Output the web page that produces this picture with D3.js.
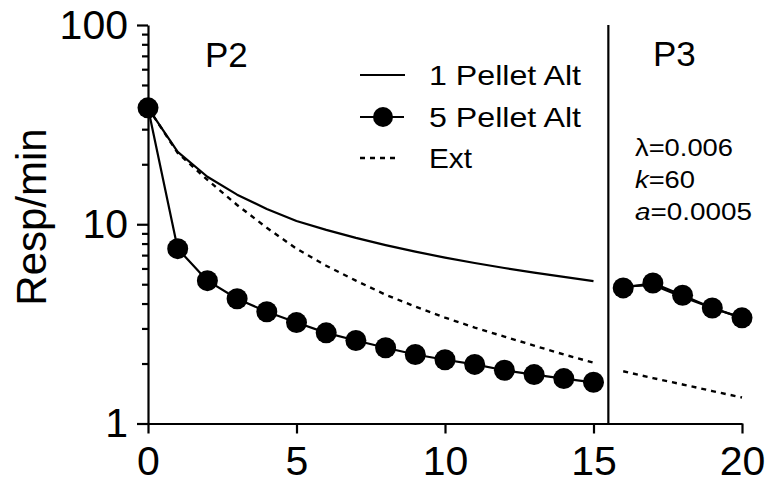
<!DOCTYPE html>
<html>
<head>
<meta charset="utf-8">
<script src="https://cdn.jsdelivr.net/npm/d3@7"></script>
<style>
  html, body { margin: 0; padding: 0; background: #fff; }
  svg { display: block; font-family: "Liberation Sans", Arial, sans-serif; }
</style>
</head>
<body>
<svg id="chart" width="771" height="487"></svg>
<script>
// Sessions in each phase
const sessionsP2 = [0, 1, 2, 3, 4, 5, 6, 7, 8, 9, 10, 11, 12, 13, 14, 15];
const sessionsP3 = [16, 17, 18, 19, 20];

// Responses per minute, phase 2
const onePelletP2 = [38.4, 23.1, 17.32, 14.08, 11.93, 10.39, 9.37, 8.54, 7.86, 7.29, 6.80, 6.39, 6.03, 5.72, 5.44, 5.18];
const fivePelletP2 = [38.4, 7.54, 5.21, 4.23, 3.64, 3.21, 2.85, 2.61, 2.40, 2.22, 2.09, 1.98, 1.85, 1.76, 1.68, 1.61];
const extP2 = [38.4, 22.8, 16.7, 12.5, 9.6, 7.54, 6.19, 5.21, 4.43, 3.86, 3.40, 3.03, 2.73, 2.46, 2.22, 2.02];

// Responses per minute, phase 3
const onePelletP3 = [4.88, 4.95, 4.32, 3.80, 3.39];
const fivePelletP3 = [4.79, 5.07, 4.40, 3.80, 3.39];
const extP3 = [1.83, 1.69, 1.57, 1.455, 1.35];

const xTicks = [0, 5, 10, 15, 20];
const yMajorTicks = [1, 10, 100];
const yMinorTicks = [2, 3, 4, 5, 6, 7, 8, 9, 20, 30, 40, 50, 60, 70, 80, 90];

const legendLabels = ["1 Pellet Alt", "5 Pellet Alt", "Ext"];
const phaseLabels = ["P2", "P3"];
const phaseBoundary = 15.5;

const svg = d3.select("#chart");
const x = d3.scaleLinear().domain([0, 20]).range([148, 742]);
const y = d3.scaleLog().domain([1, 100]).range([423.5, 25]);

const ink = "#000";

// Axes
const xAxis = svg.append("g")
  .attr("transform", `translate(0,${y(1)})`)
  .call(d3.axisBottom(x).tickValues(xTicks).tickSizeInner(10).tickSizeOuter(0).tickPadding(12).tickFormat(d3.format("d")));
xAxis.select(".domain").attr("stroke", ink).attr("stroke-width", 2.2);
xAxis.selectAll(".tick line").attr("stroke", ink).attr("stroke-width", 2.2);
xAxis.selectAll(".tick text").attr("font-size", 41).attr("fill", ink)
  .attr("font-family", "Liberation Sans, Arial, sans-serif");

const yMinor = svg.append("g")
  .attr("transform", `translate(${x(0)},0)`)
  .call(d3.axisLeft(y).tickValues(yMinorTicks).tickSizeInner(6).tickSizeOuter(0).tickFormat(""));
yMinor.select(".domain").remove();
yMinor.selectAll(".tick line").attr("stroke", ink).attr("stroke-width", 2.2);

const yAxis = svg.append("g")
  .attr("transform", `translate(${x(0)},0)`)
  .call(d3.axisLeft(y).tickValues(yMajorTicks).tickSizeInner(11).tickSizeOuter(0).tickPadding(9).tickFormat(d3.format("d")));
yAxis.select(".domain").attr("stroke", ink).attr("stroke-width", 2.2);
yAxis.selectAll(".tick line").attr("stroke", ink).attr("stroke-width", 2.2);
yAxis.selectAll(".tick text").attr("font-size", 41).attr("fill", ink)
  .attr("font-family", "Liberation Sans, Arial, sans-serif");

// Y axis title
svg.append("text")
  .attr("transform", `translate(46,217) rotate(-90)`)
  .attr("text-anchor", "middle")
  .attr("font-size", 42)
  .attr("fill", ink)
  .text("Resp/min");

// Phase divider
svg.append("line")
  .attr("x1", x(phaseBoundary)).attr("x2", x(phaseBoundary))
  .attr("y1", y(100)).attr("y2", y(1))
  .attr("stroke", ink).attr("stroke-width", 2.2);

// Phase labels
svg.append("text").attr("x", 205).attr("y", 67).attr("font-size", 35).attr("fill", ink).text(phaseLabels[0]);
svg.append("text").attr("x", 653).attr("y", 66).attr("font-size", 35).attr("fill", ink).text(phaseLabels[1]);

// Parameter annotation (slightly widened face)
const ann = svg.append("g").attr("font-size", 24.5).attr("fill", ink);
const a1 = ann.append("text").attr("x", 635).attr("y", 156)
  .attr("textLength", 98).attr("lengthAdjust", "spacingAndGlyphs");
a1.append("tspan").text("\u03bb=0.006");
const a2 = ann.append("text").attr("x", 635).attr("y", 188)
  .attr("textLength", 60).attr("lengthAdjust", "spacingAndGlyphs");
a2.append("tspan").attr("font-style", "italic").text("k");
a2.append("tspan").text("=60");
const a3 = ann.append("text").attr("x", 635).attr("y", 220)
  .attr("textLength", 117).attr("lengthAdjust", "spacingAndGlyphs");
a3.append("tspan").attr("font-style", "italic").text("a");
a3.append("tspan").text("=0.0005");

// Series
const line = d3.line().x(d => x(d[0])).y(d => y(d[1]));
const pair = (xs, ys) => xs.map((v, i) => [v, ys[i]]);

const solidStyle = sel => sel.attr("fill", "none").attr("stroke", ink).attr("stroke-width", 2.2).attr("stroke-linejoin", "round");

[pair(sessionsP2, onePelletP2), pair(sessionsP3, onePelletP3)].forEach(pts => {
  svg.append("path").datum(pts).attr("d", line).call(solidStyle);
});

[pair(sessionsP2, extP2), pair(sessionsP3, extP3)].forEach(pts => {
  svg.append("path").datum(pts).attr("d", line)
    .attr("fill", "none").attr("stroke", ink).attr("stroke-width", 2.4)
    .attr("stroke-dasharray", "5,5");
});

[pair(sessionsP2, fivePelletP2), pair(sessionsP3, fivePelletP3)].forEach(pts => {
  svg.append("path").datum(pts).attr("d", line).call(solidStyle);
  svg.append("g").selectAll("circle").data(pts).join("circle")
    .attr("cx", d => x(d[0])).attr("cy", d => y(d[1])).attr("r", 10.5).attr("fill", ink);
});

// Legend
const legendRows = [75, 117, 158];
const legendWidths = [152, 152, 43];
const lg = svg.append("g");
lg.append("line").attr("x1", 360).attr("x2", 405).attr("y1", legendRows[0]).attr("y2", legendRows[0])
  .attr("stroke", ink).attr("stroke-width", 2.2);
lg.append("line").attr("x1", 360).attr("x2", 404).attr("y1", legendRows[1]).attr("y2", legendRows[1])
  .attr("stroke", ink).attr("stroke-width", 2.2);
lg.append("circle").attr("cx", 383).attr("cy", legendRows[1]).attr("r", 10).attr("fill", ink);
lg.append("line").attr("x1", 360).attr("x2", 398).attr("y1", legendRows[2]).attr("y2", legendRows[2])
  .attr("stroke", ink).attr("stroke-width", 2.4).attr("stroke-dasharray", "5,5");
legendLabels.forEach((t, i) => {
  lg.append("text").attr("x", 429).attr("y", legendRows[i] + 10)
    .attr("font-size", 28).attr("fill", ink)
    .attr("textLength", legendWidths[i]).attr("lengthAdjust", "spacingAndGlyphs")
    .text(t);
});
</script>
</body>
</html>
